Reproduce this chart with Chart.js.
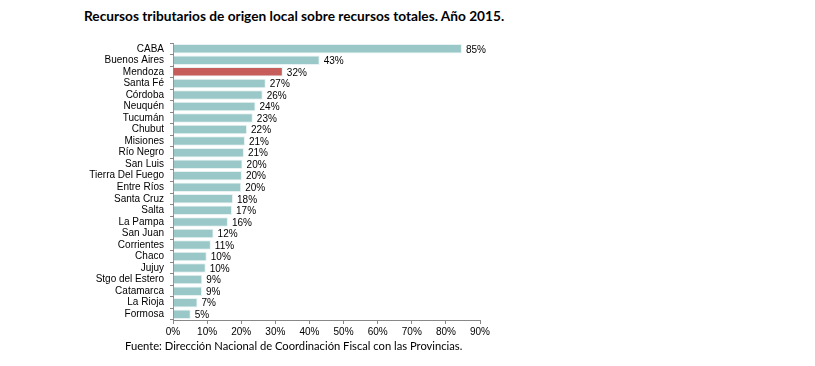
<!DOCTYPE html>
<html>
<head>
<meta charset="utf-8">
<script src="https://cdn.jsdelivr.net/npm/chart.js@4"></script>
<style>
  html, body { margin: 0; padding: 0; background: #fff; }
  #wrap { position: relative; width: 815px; height: 366px; }
  #titulo { position: absolute; left: 84px; top: 7px; font: bold 13.7px Lato, sans-serif; color: #000; white-space: nowrap; }
  #fuente { position: absolute; left: 125px; top: 339px; font: 11.2px Lato, sans-serif; color: #000; white-space: nowrap; }
  canvas { position: absolute; left: 0; top: 0; }
</style>
</head>
<body>
<div id="wrap">
  <div id="titulo">Recursos tributarios de origen local sobre recursos totales. Año 2015.</div>
  <canvas id="barChart" width="815" height="366"></canvas>
  <div id="fuente">Fuente: Dirección Nacional de Coordinación Fiscal con las Provincias.</div>
</div>
<script>
  const provincias = ['CABA', 'Buenos Aires', 'Mendoza', 'Santa Fé', 'Córdoba', 'Neuquén', 'Tucumán', 'Chubut',
    'Misiones', 'Río Negro', 'San Luis', 'Tierra Del Fuego', 'Entre Ríos', 'Santa Cruz', 'Salta', 'La Pampa',
    'San Juan', 'Corrientes', 'Chaco', 'Jujuy', 'Stgo del Estero', 'Catamarca', 'La Rioja', 'Formosa'];
  const porcentajes = [84.7, 43.0, 32.2, 27.2, 26.3, 24.2, 23.4, 21.7, 21.1, 20.8, 20.4, 20.2, 20.0, 17.6, 17.3, 16.1,
    11.9, 11.1, 9.9, 9.6, 8.6, 8.5, 7.2, 5.2];
  const destacada = 'Mendoza';
  const ticksX = [0, 10, 20, 30, 40, 50, 60, 70, 80, 90];

  const colores = provincias.map(p => p === destacada ? '#C65D5B' : '#9AC8C8');

  // etiquetas de valor al final de cada barra
  const etiquetas = {
    id: 'etiquetas',
    afterDatasetsDraw(chart) {
      const ctx = chart.ctx;
      const meta = chart.getDatasetMeta(0);
      ctx.save();
      ctx.font = '10px "Liberation Sans", Arial, sans-serif';
      ctx.fillStyle = '#000';
      ctx.textBaseline = 'middle';
      meta.data.forEach((bar, i) => {
        ctx.fillText(Math.round(porcentajes[i]) + '%', bar.x + 4, bar.y + 1);
      });
      ctx.restore();
    }
  };

  new Chart(document.getElementById('barChart'), {
    type: 'bar',
    data: {
      labels: provincias,
      datasets: [{
        data: porcentajes,
        backgroundColor: colores,
        borderColor: '#E8F2F2',
        borderWidth: 1,
        barPercentage: 0.82,
        categoryPercentage: 1
      }]
    },
    options: {
      indexAxis: 'y',
      responsive: false,
      animation: false,
      layout: { padding: { left: 0, right: 335, top: 43, bottom: 0 } },
      plugins: { legend: { display: false }, tooltip: { enabled: false } },
      scales: {
        y: {
          afterFit: s => { s.width = 173; },
          grid: { display: true, drawOnChartArea: false, tickLength: 3, color: '#888' },
          border: { color: '#888' },
          ticks: {
            color: '#000',
            padding: 6,
            autoSkip: false,
            font: { family: '"Liberation Sans", Arial, sans-serif', size: 10 }
          }
        },
        x: {
          min: 0,
          max: 90,
          afterFit: s => { s.height = 46; },
          afterBuildTicks: s => { s.ticks = ticksX.map(v => ({ value: v })); },
          grid: { display: true, drawOnChartArea: false, tickLength: 4, color: '#888' },
          border: { color: '#888' },
          ticks: {
            color: '#000',
            padding: 2,
            maxRotation: 0,
            autoSkip: false,
            font: { family: '"Liberation Sans", Arial, sans-serif', size: 10 },
            callback: v => v + '%'
          }
        }
      }
    },
    plugins: [etiquetas]
  });
</script>
</body>
</html>
